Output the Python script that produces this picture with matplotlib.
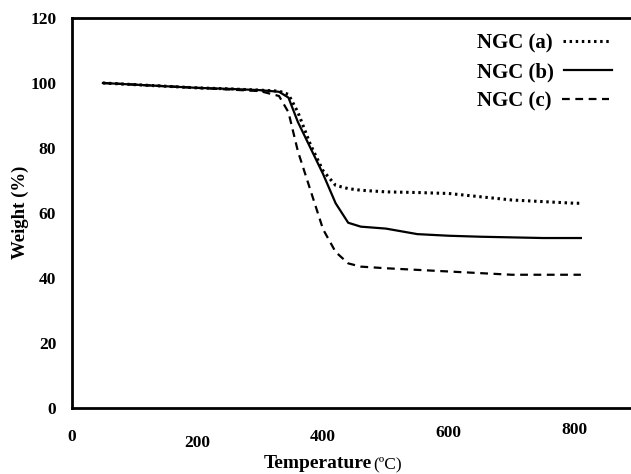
import numpy as np
import matplotlib.pyplot as plt
from matplotlib.transforms import ScaledTranslation

temp = [50, 100, 150, 200, 250, 300, 330, 345, 360, 380, 400, 420, 440, 460, 500, 550, 600, 650, 700, 750, 800, 810]
ngc_a = [100, 99.5, 99, 98.5, 98.2, 97.8, 97.5, 96.5, 91, 81, 73, 68.5, 67.5, 67, 66.5, 66.3, 66, 65, 64, 63.5, 63, 63]
ngc_b = [100, 99.5, 99, 98.5, 98.2, 97.8, 97.3, 95.5, 88, 80, 72, 63, 57, 55.8, 55.2, 53.5, 53, 52.7, 52.5, 52.3, 52.3, 52.3]
ngc_c = [100, 99.5, 99, 98.5, 98, 97.5, 96, 91, 79, 67, 55, 48, 44.5, 43.5, 43, 42.5, 42, 41.5, 41, 41, 41, 41]

xticks = [0, 200, 400, 600, 800]
yticks = [0, 20, 40, 60, 80, 100, 120]

plt.rcParams['font.family'] = ['Liberation Serif', 'DejaVu Serif']

fig = plt.figure(figsize=(6.31, 4.74), dpi=100)
W, H = 631, 474
ax = fig.add_axes([71.5 / W, (H - 408) / H, (640 - 71.5) / W, 390 / H])

ax.plot(temp, ngc_a, color='black', lw=2.2, linestyle=(0, (0.8, 1.2)), label='NGC (a)')
ax.plot(temp, ngc_b, color='black', lw=1.6, linestyle='-', label='NGC (b)')
ax.plot(temp, ngc_c, color='black', lw=1.6, linestyle=(0, (3.5, 2.5)), label='NGC (c)')

ax.set_xlim(0, 904)
ax.set_ylim(0, 120)
ax.set_xticks(xticks)
ax.set_yticks(yticks)
ax.tick_params(length=0, labelsize=12.5, pad=11)
ax.tick_params(axis='x', pad=15)
for lab in ax.get_xticklabels() + ax.get_yticklabels():
    lab.set_fontweight('bold')

# the x labels sit at uneven heights in the original
offs = [0, -6, 0, 4, 7]
for lab, o in zip(ax.get_xticklabels(), offs):
    lab.set_transform(lab.get_transform() + ScaledTranslation(0, o / 100, fig.dpi_scale_trans))

for s in ['left', 'bottom', 'top']:
    ax.spines[s].set_linewidth(2.0)
ax.spines['right'].set_visible(False)

fig.text(20 / W, 1 - 212 / H, 'Weight (%)', fontsize=13.5, fontweight='bold',
         rotation=90, ha='center', va='center')
fig.text(372 / W, 1 - 463 / H, 'Temperature', fontsize=14, fontweight='bold',
         ha='right', va='center')
fig.text(373 / W, 1 - 464 / H, '(ºC)', fontsize=12.5, ha='left', va='center')

leg = ax.legend(loc='upper right', bbox_to_anchor=(0.978, 1.0), frameon=False,
                markerfirst=False, prop={'size': 15, 'weight': 'bold'},
                handlelength=2.3, handletextpad=0.5, labelspacing=0.42, borderaxespad=0.35)
# left-justify the label column like the original
for col in leg._legend_handle_box.get_children():
    col.align = 'left'

fig.savefig('out.png', dpi=100)
